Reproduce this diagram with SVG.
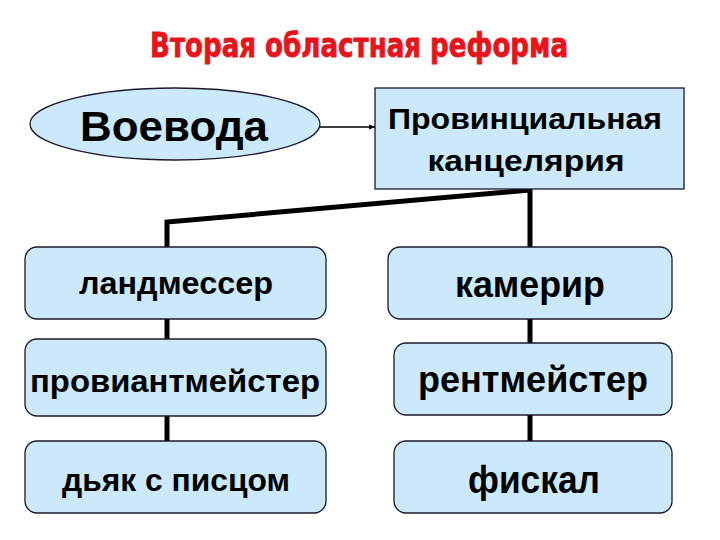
<svg xmlns="http://www.w3.org/2000/svg" width="720" height="540" viewBox="0 0 720 540">
<defs>
<style>
.node{fill:#cce9fb;stroke:#1a1a2a;stroke-width:1.3}
.t{font-family:"Liberation Sans",Arial,sans-serif;font-weight:bold;fill:#000;text-anchor:middle}
.conn{fill:none;stroke:#000;stroke-width:5;stroke-linejoin:miter}
</style>
<marker id="ah" viewBox="0 0 10 10" refX="10" refY="5" markerWidth="6" markerHeight="6" orient="auto" markerUnits="userSpaceOnUse">
<path d="M0,1 L10,5 L0,9 Z" fill="#000"/>
</marker>
</defs>
<rect width="720" height="540" fill="#fff"/>
<text x="359" y="57" font-family="'Liberation Sans Narrow','DejaVu Sans Condensed','Liberation Sans',sans-serif" font-weight="bold" font-size="34" fill="#e8141c" stroke="#e8141c" stroke-width="0.8" text-anchor="middle" textLength="418" lengthAdjust="spacingAndGlyphs">Вторая областная реформа</text>
<g id="connectors">
<line x1="320" y1="127" x2="375" y2="127" stroke="#000" stroke-width="1.5" marker-end="url(#ah)"/>
<path class="conn" d="M167,247 L167,222 L530,190 L530,247"/>
<line class="conn" x1="167" y1="319" x2="167" y2="339"/>
<line class="conn" x1="167" y1="416" x2="167" y2="441"/>
<line class="conn" x1="530" y1="319" x2="530" y2="343"/>
<line class="conn" x1="530" y1="415" x2="530" y2="441"/>
</g>
<g id="voevoda">
<ellipse class="node" cx="175" cy="124" rx="145" ry="36"/>
<text class="t" x="174" y="141" font-size="43" textLength="188" lengthAdjust="spacingAndGlyphs">Воевода</text>
</g>
<g id="kantselyariya">
<rect class="node" x="375" y="88" width="309" height="101" stroke="#333"/>
<text class="t" x="525" y="129" font-size="29" textLength="274" lengthAdjust="spacingAndGlyphs">Провинциальная</text>
<text class="t" x="526" y="171" font-size="29" textLength="197" lengthAdjust="spacingAndGlyphs">канцелярия</text>
</g>
<g id="landmesser">
<rect class="node" x="25" y="247" width="301" height="72" rx="12"/>
<text class="t" x="176" y="294" font-size="31" textLength="194" lengthAdjust="spacingAndGlyphs">ландмессер</text>
</g>
<g id="kamerir">
<rect class="node" x="388" y="247" width="284" height="72" rx="12"/>
<text class="t" x="530" y="297" font-size="36" textLength="150" lengthAdjust="spacingAndGlyphs">камерир</text>
</g>
<g id="proviantmeister">
<rect class="node" x="25" y="339" width="301" height="77" rx="12"/>
<text class="t" x="175" y="392" font-size="32" textLength="290" lengthAdjust="spacingAndGlyphs">провиантмейстер</text>
</g>
<g id="rentmeister">
<rect class="node" x="394" y="343" width="278" height="72" rx="12"/>
<text class="t" x="533" y="392" font-size="36" textLength="230" lengthAdjust="spacingAndGlyphs">рентмейстер</text>
</g>
<g id="dyak">
<rect class="node" x="25" y="441" width="301" height="72" rx="12"/>
<text class="t" x="176" y="491" font-size="31" textLength="228" lengthAdjust="spacingAndGlyphs">дьяк с писцом</text>
</g>
<g id="fiskal">
<rect class="node" x="394" y="441" width="278" height="72" rx="12"/>
<text class="t" x="534" y="493" font-size="38" textLength="132" lengthAdjust="spacingAndGlyphs">фискал</text>
</g>
</svg>
